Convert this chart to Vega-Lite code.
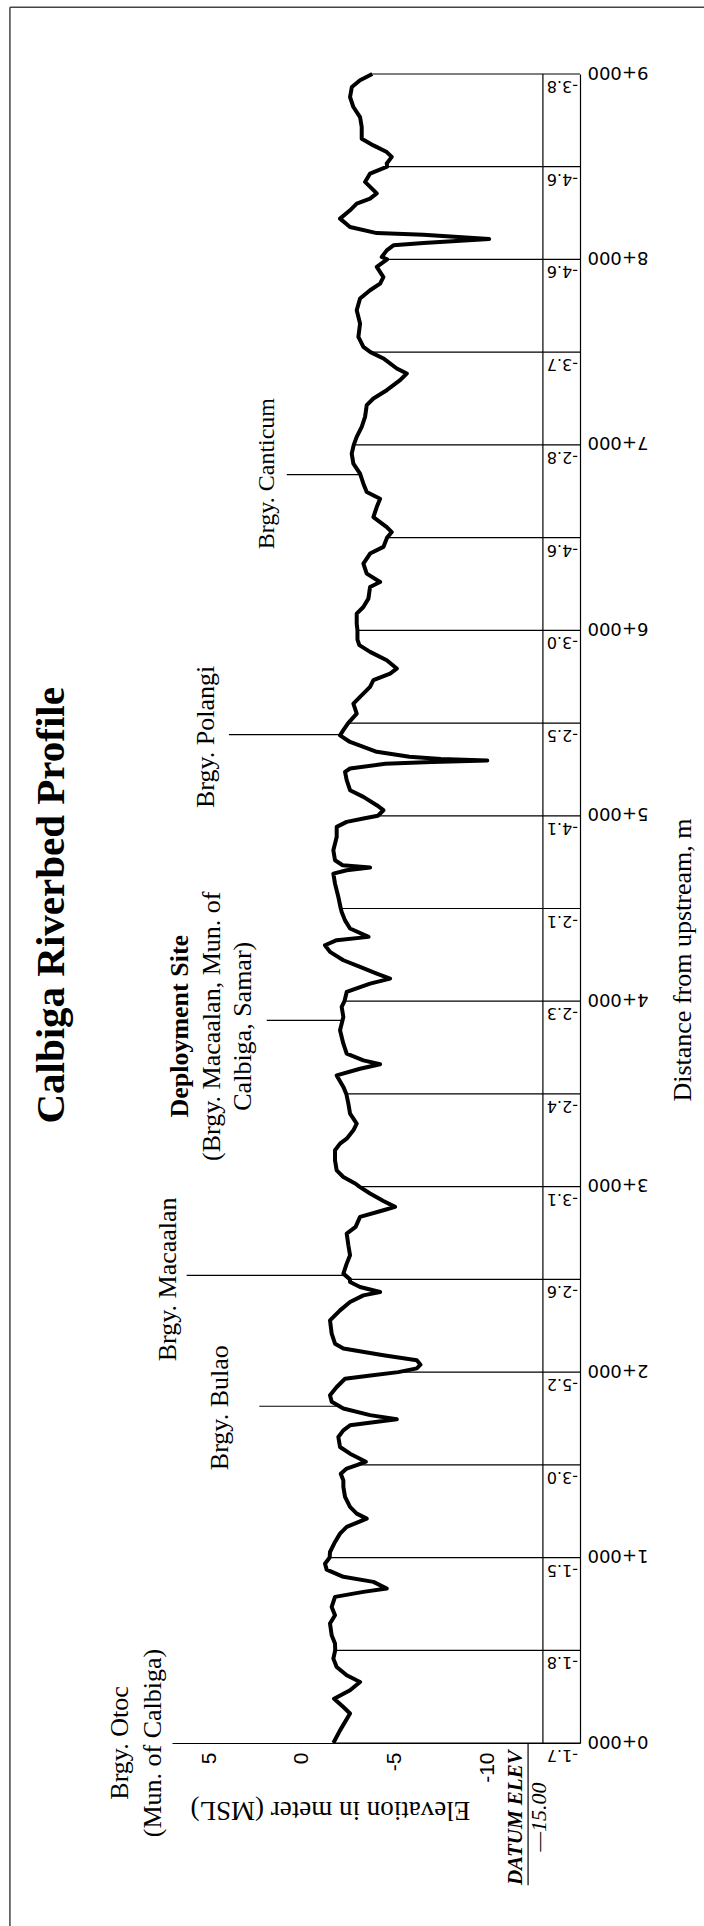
{
  "$schema": "https://vega.github.io/schema/vega-lite/v6.json",
  "width": 408,
  "height": 1669,
  "autosize": {"type": "none"},
  "padding": {"left": 172, "top": 74, "right": 124, "bottom": 183},
  "background": "white",
  "config": {
    "view": {"stroke": null},
    "font": "Liberation Serif",
    "locale": {"number": {"decimal": ".", "thousands": ",", "grouping": [3], "currency": ["", ""], "minus": "-"}}
  },
  "resolve": {"axis": {"x": "independent", "y": "independent"}},
  "datasets": {
    "profile": [
      {"dist":0,"elev":-1.7},{"dist":68,"elev":-2.06},{"dist":159,"elev":-2.6},{"dist":194,"elev":-2.24},{"dist":239,"elev":-1.74},{"dist":284,"elev":-2.6},{"dist":329,"elev":-3.14},{"dist":365,"elev":-2.42},{"dist":410,"elev":-1.88},{"dist":455,"elev":-1.7},{"dist":500,"elev":-1.8},{"dist":536,"elev":-1.79},{"dist":581,"elev":-1.61},{"dist":644,"elev":-1.52},{"dist":689,"elev":-1.79},{"dist":734,"elev":-1.61},{"dist":788,"elev":-1.79},{"dist":815,"elev":-3.32},{"dist":833,"elev":-4.58},{"dist":869,"elev":-3.86},{"dist":896,"elev":-2.24},{"dist":935,"elev":-1.34},{"dist":967,"elev":-1.25},{"dist":1000,"elev":-1.5},{"dist":1030,"elev":-1.52},{"dist":1084,"elev":-1.79},{"dist":1129,"elev":-2.06},{"dist":1165,"elev":-2.42},{"dist":1210,"elev":-3.5},{"dist":1237,"elev":-2.96},{"dist":1273,"elev":-2.6},{"dist":1327,"elev":-2.33},{"dist":1381,"elev":-2.24},{"dist":1416,"elev":-2.24},{"dist":1452,"elev":-2.1},{"dist":1480,"elev":-2.42},{"dist":1500,"elev":-3.0},{"dist":1517,"elev":-3.45},{"dist":1540,"elev":-3.0},{"dist":1560,"elev":-2.6},{"dist":1596,"elev":-2.06},{"dist":1650,"elev":-1.97},{"dist":1686,"elev":-2.24},{"dist":1713,"elev":-2.6},{"dist":1746,"elev":-5.12},{"dist":1768,"elev":-3.68},{"dist":1804,"elev":-2.24},{"dist":1840,"elev":-1.61},{"dist":1875,"elev":-1.52},{"dist":1920,"elev":-1.88},{"dist":1964,"elev":-2.33},{"dist":1980,"elev":-3.6},{"dist":2000,"elev":-5.2},{"dist":2020,"elev":-6.2},{"dist":2040,"elev":-6.4},{"dist":2064,"elev":-6.2},{"dist":2091,"elev":-4.4},{"dist":2127,"elev":-2.24},{"dist":2153,"elev":-1.79},{"dist":2207,"elev":-1.61},{"dist":2279,"elev":-1.52},{"dist":2333,"elev":-2.06},{"dist":2378,"elev":-2.6},{"dist":2414,"elev":-3.32},{"dist":2432,"elev":-4.22},{"dist":2459,"elev":-3.14},{"dist":2486,"elev":-2.6},{"dist":2500,"elev":-2.6},{"dist":2531,"elev":-2.24},{"dist":2585,"elev":-2.42},{"dist":2630,"elev":-2.6},{"dist":2684,"elev":-2.51},{"dist":2747,"elev":-2.42},{"dist":2783,"elev":-2.9},{"dist":2837,"elev":-3.14},{"dist":2873,"elev":-4.4},{"dist":2891,"elev":-5.03},{"dist":2923,"elev":-4.4},{"dist":2963,"elev":-3.68},{"dist":3000,"elev":-3.1},{"dist":3016,"elev":-2.9},{"dist":3052,"elev":-2.24},{"dist":3088,"elev":-1.88},{"dist":3142,"elev":-1.79},{"dist":3196,"elev":-1.79},{"dist":3232,"elev":-2.06},{"dist":3259,"elev":-2.42},{"dist":3304,"elev":-2.78},{"dist":3340,"elev":-2.96},{"dist":3394,"elev":-2.6},{"dist":3448,"elev":-2.51},{"dist":3500,"elev":-2.4},{"dist":3538,"elev":-2.24},{"dist":3600,"elev":-1.88},{"dist":3636,"elev":-3.14},{"dist":3660,"elev":-4.22},{"dist":3681,"elev":-3.32},{"dist":3717,"elev":-2.42},{"dist":3771,"elev":-2.24},{"dist":3843,"elev":-2.06},{"dist":3915,"elev":-2.24},{"dist":3969,"elev":-2.15},{"dist":4000,"elev":-2.3},{"dist":4050,"elev":-2.42},{"dist":4095,"elev":-3.68},{"dist":4122,"elev":-4.76},{"dist":4149,"elev":-4.04},{"dist":4185,"elev":-3.14},{"dist":4221,"elev":-2.24},{"dist":4266,"elev":-1.52},{"dist":4302,"elev":-1.25},{"dist":4329,"elev":-1.88},{"dist":4347,"elev":-3.6},{"dist":4392,"elev":-2.6},{"dist":4436,"elev":-2.33},{"dist":4481,"elev":-2.15},{"dist":4500,"elev":-2.1},{"dist":4562,"elev":-1.97},{"dist":4634,"elev":-1.79},{"dist":4688,"elev":-1.7},{"dist":4706,"elev":-2.42},{"dist":4721,"elev":-3.68},{"dist":4733,"elev":-2.2},{"dist":4760,"elev":-1.79},{"dist":4814,"elev":-1.7},{"dist":4886,"elev":-1.88},{"dist":4940,"elev":-1.88},{"dist":4967,"elev":-2.42},{"dist":4985,"elev":-3.32},{"dist":5000,"elev":-4.1},{"dist":5030,"elev":-4.4},{"dist":5057,"elev":-4.04},{"dist":5102,"elev":-3.32},{"dist":5138,"elev":-2.6},{"dist":5192,"elev":-2.42},{"dist":5237,"elev":-2.33},{"dist":5255,"elev":-2.6},{"dist":5280,"elev":-4.5},{"dist":5290,"elev":-7.0},{"dist":5298,"elev":-10.0},{"dist":5306,"elev":-7.5},{"dist":5318,"elev":-5.8},{"dist":5345,"elev":-4.04},{"dist":5398,"elev":-2.6},{"dist":5434,"elev":-2.06},{"dist":5462,"elev":-2.24},{"dist":5500,"elev":-2.5},{"dist":5551,"elev":-2.96},{"dist":5605,"elev":-2.78},{"dist":5641,"elev":-3.14},{"dist":5695,"elev":-3.68},{"dist":5731,"elev":-3.86},{"dist":5767,"elev":-4.76},{"dist":5794,"elev":-5.12},{"dist":5839,"elev":-4.58},{"dist":5884,"elev":-3.68},{"dist":5920,"elev":-3.1},{"dist":5950,"elev":-3.0},{"dist":6000,"elev":-3.0},{"dist":6036,"elev":-2.96},{"dist":6090,"elev":-2.96},{"dist":6126,"elev":-3.32},{"dist":6171,"elev":-3.59},{"dist":6234,"elev":-3.68},{"dist":6261,"elev":-4.22},{"dist":6306,"elev":-3.5},{"dist":6360,"elev":-3.32},{"dist":6414,"elev":-3.68},{"dist":6450,"elev":-4.4},{"dist":6500,"elev":-4.6},{"dist":6530,"elev":-4.85},{"dist":6557,"elev":-4.58},{"dist":6611,"elev":-3.86},{"dist":6665,"elev":-4.04},{"dist":6710,"elev":-4.22},{"dist":6746,"elev":-3.5},{"dist":6791,"elev":-3.32},{"dist":6845,"elev":-3.14},{"dist":6899,"elev":-2.78},{"dist":6953,"elev":-2.69},{"dist":7000,"elev":-2.8},{"dist":7043,"elev":-2.96},{"dist":7097,"elev":-3.23},{"dist":7151,"elev":-3.41},{"dist":7214,"elev":-3.5},{"dist":7250,"elev":-3.86},{"dist":7295,"elev":-4.58},{"dist":7349,"elev":-5.3},{"dist":7385,"elev":-5.66},{"dist":7412,"elev":-5.12},{"dist":7466,"elev":-4.4},{"dist":7500,"elev":-3.7},{"dist":7528,"elev":-3.32},{"dist":7582,"elev":-3.05},{"dist":7654,"elev":-3.14},{"dist":7726,"elev":-2.96},{"dist":7789,"elev":-3.14},{"dist":7834,"elev":-3.68},{"dist":7870,"elev":-4.22},{"dist":7905,"elev":-4.4},{"dist":7960,"elev":-4.04},{"dist":8000,"elev":-4.6},{"dist":8013,"elev":-4.31},{"dist":8049,"elev":-4.58},{"dist":8076,"elev":-4.94},{"dist":8089,"elev":-6.56},{"dist":8110,"elev":-10.1},{"dist":8133,"elev":-6.56},{"dist":8142,"elev":-4.04},{"dist":8175,"elev":-2.6},{"dist":8220,"elev":-2.06},{"dist":8265,"elev":-2.6},{"dist":8301,"elev":-2.96},{"dist":8328,"elev":-3.68},{"dist":8356,"elev":-4.04},{"dist":8418,"elev":-3.41},{"dist":8463,"elev":-3.68},{"dist":8500,"elev":-4.6},{"dist":8517,"elev":-4.58},{"dist":8553,"elev":-4.85},{"dist":8579,"elev":-4.58},{"dist":8615,"elev":-3.86},{"dist":8651,"elev":-3.23},{"dist":8714,"elev":-3.23},{"dist":8768,"elev":-3.14},{"dist":8822,"elev":-2.78},{"dist":8876,"elev":-2.6},{"dist":8930,"elev":-2.7},{"dist":8966,"elev":-3.14},{"dist":9000,"elev":-3.8}
    ],
    "stations": [
      {"dist":0,"elev":-1.7},{"dist":500,"elev":-1.8},{"dist":1000,"elev":-1.5},{"dist":1500,"elev":-3.0},{"dist":2000,"elev":-5.2},{"dist":2500,"elev":-2.6},{"dist":3000,"elev":-3.1},{"dist":3500,"elev":-2.4},{"dist":4000,"elev":-2.3},{"dist":4500,"elev":-2.1},{"dist":5000,"elev":-4.1},{"dist":5500,"elev":-2.5},{"dist":6000,"elev":-3.0},{"dist":6500,"elev":-4.6},{"dist":7000,"elev":-2.8},{"dist":7500,"elev":-3.7},{"dist":8000,"elev":-4.6},{"dist":8500,"elev":-4.6},{"dist":9000,"elev":-3.8}
    ],
    "leaders": [
      {"dist":1816,"top":2.29,"bed":-2.0},
      {"dist":2522,"top":6.21,"bed":-2.3},
      {"dist":3897,"top":1.89,"bed":-2.15},
      {"dist":5438,"top":3.93,"bed":-2.1},
      {"dist":6840,"top":0.81,"bed":-3.1}
    ],
    "places": [
      {"dist":0,"elev":9.81,"text":"Brgy. Otoc"},
      {"dist":0,"elev":8.03,"text":"(Mun. of Calbiga)"},
      {"dist":1808,"elev":4.41,"text":"Brgy. Bulao"},
      {"dist":2500,"elev":7.2,"text":"Brgy. Macaalan"},
      {"dist":3865,"elev":4.84,"text":"(Brgy. Macaalan, Mun. of"},
      {"dist":3865,"elev":3.17,"text":"Calbiga, Samar)"},
      {"dist":5425,"elev":5.19,"text":"Brgy. Polangi"}
    ],
    "one": [{}]
  },
  "layer": [
    {
      "description": "riverbed profile, which also carries both axes",
      "data": {"name": "profile"},
      "mark": {"type": "line", "color": "black", "strokeWidth": 4, "strokeJoin": "round"},
      "encoding": {
        "x": {
          "field": "elev", "type": "quantitative",
          "scale": {"domain": [7, -15], "nice": false, "zero": false},
          "axis": {
            "orient": "bottom", "values": [5, 0, -5, -10], "title": null,
            "labelAngle": 270, "labelAlign": "right", "labelBaseline": "middle",
            "labelFont": "Liberation Sans", "labelFontSize": 21, "labelColor": "black",
            "labelPadding": 9, "ticks": false, "tickSize": 0, "grid": false,
            "domain": true, "domainColor": "black", "domainWidth": 1.2, "labelOverlap": false
          }
        },
        "y": {
          "field": "dist", "type": "quantitative",
          "scale": {"domain": [0, 9000], "nice": false, "zero": false},
          "axis": {
            "orient": "right", "values": [0, 1000, 2000, 3000, 4000, 5000, 6000, 7000, 8000, 9000], "title": null,
            "labelExpr": "floor(datum.value / 1000) + '+000'",
            "labelAngle": 180, "labelAlign": "right", "labelBaseline": "middle",
            "labelFont": "DejaVu Sans", "labelFontSize": 18, "labelColor": "black",
            "labelPadding": 7, "labelOffset": -3, "ticks": false, "tickSize": 0, "grid": false,
            "domain": true, "domainColor": "black", "domainWidth": 1.2, "labelOverlap": false
          }
        },
        "order": {"field": "dist", "type": "quantitative"}
      }
    },
    {
      "description": "sheet border, top edge",
      "data": {"name": "one"},
      "mark": {"type": "rule", "color": "#444444", "strokeWidth": 1.5},
      "encoding": {
        "x": {"datum": 15.74, "type": "quantitative", "axis": null},
        "x2": {"datum": -21.7},
        "y": {"datum": 9360, "type": "quantitative", "axis": null}
      }
    },
    {
      "description": "sheet border, left edge",
      "data": {"name": "one"},
      "mark": {"type": "rule", "color": "#444444", "strokeWidth": 1.5},
      "encoding": {
        "x": {"datum": 15.74, "type": "quantitative", "axis": null},
        "y": {"datum": 9360, "type": "quantitative", "axis": null},
        "y2": {"datum": -988}
      }
    },
    {
      "description": "station lines from the bed down to the datum",
      "data": {"name": "stations"},
      "mark": {"type": "rule", "color": "black", "strokeWidth": 1.2},
      "encoding": {
        "x": {"field": "elev", "type": "quantitative", "axis": null},
        "x2": {"datum": -15},
        "y": {"field": "dist", "type": "quantitative", "axis": null}
      }
    },
    {
      "description": "edge of the elevation strip",
      "data": {"name": "one"},
      "mark": {"type": "rule", "color": "black", "strokeWidth": 1.2},
      "encoding": {
        "x": {"datum": -13, "type": "quantitative", "axis": null},
        "y": {"datum": 0, "type": "quantitative", "axis": null},
        "y2": {"datum": 9000}
      }
    },
    {
      "description": "datum marker line",
      "data": {"name": "one"},
      "mark": {"type": "rule", "color": "black", "strokeWidth": 1.2},
      "encoding": {
        "x": {"datum": -12.2, "type": "quantitative", "axis": null},
        "y": {"datum": 0, "type": "quantitative", "axis": null},
        "y2": {"datum": -767}
      }
    },
    {
      "description": "leader lines to the barangay names",
      "data": {"name": "leaders"},
      "mark": {"type": "rule", "color": "black", "strokeWidth": 1.2},
      "encoding": {
        "x": {"field": "top", "type": "quantitative", "axis": null},
        "x2": {"field": "bed"},
        "y": {"field": "dist", "type": "quantitative", "axis": null}
      }
    },
    {
      "description": "bed elevation written in the strip at each station",
      "data": {"name": "stations"},
      "mark": {"type": "text", "angle": 180, "align": "left", "baseline": "alphabetic", "dx": 2, "dy": -7, "font": "DejaVu Sans", "fontSize": 16, "color": "black"},
      "encoding": {
        "x": {"datum": -15, "type": "quantitative", "axis": null},
        "y": {"field": "dist", "type": "quantitative", "axis": null},
        "text": {"field": "elev", "type": "quantitative", "format": ".1f"}
      }
    },
    {
      "description": "barangay names",
      "data": {"name": "places"},
      "mark": {"type": "text", "angle": 270, "align": "center", "baseline": "middle", "font": "Liberation Serif", "fontSize": 26, "color": "black"},
      "encoding": {
        "x": {"field": "elev", "type": "quantitative", "axis": null},
        "y": {"field": "dist", "type": "quantitative", "axis": null},
        "text": {"field": "text"}
      }
    },
    {
      "data": {"name": "one"},
      "mark": {"type": "text", "text": "Brgy. Canticum", "angle": 270, "align": "center", "baseline": "middle", "font": "Liberation Serif", "fontSize": 24, "color": "black"},
      "encoding": {
        "x": {"datum": 1.89, "type": "quantitative", "axis": null},
        "y": {"datum": 6845, "type": "quantitative", "axis": null}
      }
    },
    {
      "data": {"name": "one"},
      "mark": {"type": "text", "text": "Deployment Site", "angle": 270, "align": "center", "baseline": "middle", "font": "Liberation Serif", "fontSize": 26, "fontWeight": "bold", "color": "black"},
      "encoding": {
        "x": {"datum": 6.57, "type": "quantitative", "axis": null},
        "y": {"datum": 3865, "type": "quantitative", "axis": null}
      }
    },
    {
      "description": "chart title",
      "data": {"name": "one"},
      "mark": {"type": "text", "text": "Calbiga Riverbed Profile", "angle": 270, "align": "center", "baseline": "middle", "font": "Liberation Serif", "fontSize": 41, "fontWeight": "bold", "color": "black"},
      "encoding": {
        "x": {"datum": 13.48, "type": "quantitative", "axis": null},
        "y": {"datum": 4517, "type": "quantitative", "axis": null}
      }
    },
    {
      "description": "elevation axis title",
      "data": {"name": "one"},
      "mark": {"type": "text", "text": "Elevation in meter (MSL)", "angle": 180, "align": "center", "baseline": "middle", "font": "Liberation Serif", "fontSize": 27, "color": "black"},
      "encoding": {
        "x": {"datum": -1.54, "type": "quantitative", "axis": null},
        "y": {"datum": -363, "type": "quantitative", "axis": null}
      }
    },
    {
      "description": "distance axis title",
      "data": {"name": "one"},
      "mark": {"type": "text", "text": "Distance from upstream, m", "angle": 270, "align": "center", "baseline": "middle", "font": "Liberation Serif", "fontSize": 26, "color": "black"},
      "encoding": {
        "x": {"datum": -20.57, "type": "quantitative", "axis": null},
        "y": {"datum": 4222, "type": "quantitative", "axis": null}
      }
    },
    {
      "data": {"name": "one"},
      "mark": {"type": "text", "text": "DATUM  ELEV", "angle": 270, "align": "center", "baseline": "middle", "font": "Liberation Serif", "fontSize": 21, "fontWeight": "bold", "fontStyle": "italic", "color": "black"},
      "encoding": {
        "x": {"datum": -11.53, "type": "quantitative", "axis": null},
        "y": {"datum": -403, "type": "quantitative", "axis": null}
      }
    },
    {
      "data": {"name": "one"},
      "mark": {"type": "text", "text": "—15.00", "angle": 270, "align": "center", "baseline": "middle", "font": "Liberation Serif", "fontSize": 22, "fontStyle": "italic", "color": "black"},
      "encoding": {
        "x": {"datum": -12.8, "type": "quantitative", "axis": null},
        "y": {"datum": -399, "type": "quantitative", "axis": null}
      }
    }
  ]
}
